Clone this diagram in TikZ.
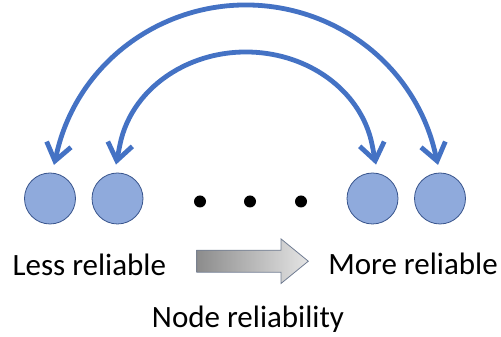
\documentclass[tikz,border=0pt]{standalone}
\usepackage{fontspec}
\setmainfont{Carlito}
\usetikzlibrary{arrows.meta}

\definecolor{arcblue}{RGB}{68,114,196}
\definecolor{nodefill}{RGB}{143,170,220}
\definecolor{nodeline}{RGB}{56,84,140}
\definecolor{shadedark}{RGB}{140,140,140}
\definecolor{shadelight}{RGB}{228,228,228}
\definecolor{arrowedge}{RGB}{112,124,146}

\begin{document}
\begin{tikzpicture}[x=1pt,y=1pt,
  relnode/.style={circle, fill=nodefill, draw=nodeline, line width=0.8pt,
                  minimum size=51pt, inner sep=0pt},
  hop/.style={draw=arcblue, line width=4.8pt,
              arrows={Straight Barb[length=17pt,width=25pt]-Straight Barb[length=17pt,width=25pt]}},
  gapdot/.style={circle, fill=black, minimum size=12pt, inner sep=0pt},
  txt/.style={font=\fontsize{31}{36}\selectfont, inner sep=0pt, anchor=base},
  trend/.style={left color=shadedark, right color=shadelight,
                draw=arrowedge, line width=0.8pt, line join=miter}
]
\useasboundingbox (0,0) rectangle (501,337);

% the four nodes, with the gap in between
\node[relnode] (n1) at (50,138.5) {};
\node[relnode] (n2) at (117.5,138.5) {};
\node[relnode] (n3) at (372.5,138.5) {};
\node[relnode] (n4) at (440,138.5) {};
\node[gapdot] (d1) at (200,135.5) {};
\node[gapdot] (d2) at (250,135.5) {};
\node[gapdot] (d3) at (301,135.5) {};

% arrow tips just above the nodes
\coordinate (oL) at (53.99,172.09);
\coordinate (oR) at (438.01,172.09);
\coordinate (iL) at (116.0,172.4);
\coordinate (iR) at (376.0,172.4);

% outer and inner double-headed arcs
\draw[hop] (oL) -- (56.97,184.74)
  arc[start angle=167, end angle=13, x radius=194, y radius=190] -- (oR);
\draw[hop] (iL) -- (119.9,192.06)
  arc[start angle=170.2, end angle=9.8, x radius=128, y radius=112] -- (iR);

% shaded block arrow
\path[trend] (196.7,64.8) -- (281,64.8) -- (281,53.5) -- (308.3,75.8)
  -- (281,98.1) -- (281,86.8) -- (196.7,86.8) -- cycle;

% captions
\node[txt] (less) at (89.3,61) {Less reliable};
\node[txt] (more) at (413,62.7) {More reliable};
\node[txt] (axis) at (248,9.7) {Node reliability};
\end{tikzpicture}
\end{document}
